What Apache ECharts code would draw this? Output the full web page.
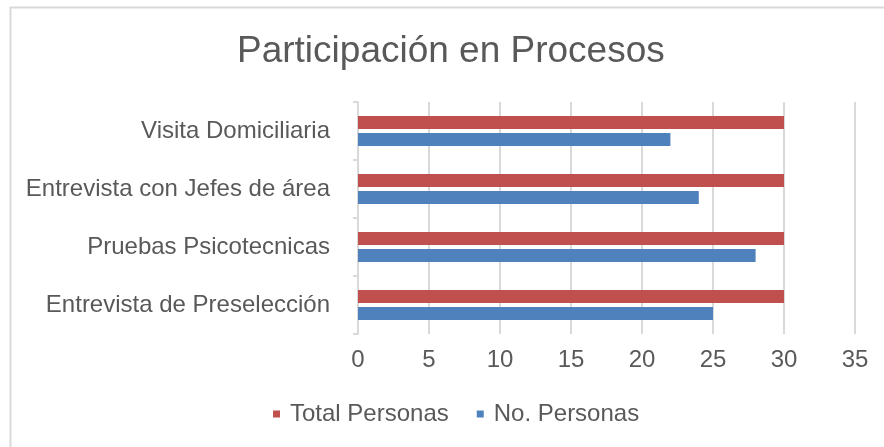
<!DOCTYPE html>
<html><head><meta charset="utf-8">
<script src="https://cdn.jsdelivr.net/npm/echarts@6/dist/echarts.min.js"></script>
<style>html,body{margin:0;padding:0;background:#fff}#c{width:884px;height:447px}</style>
</head><body><div id="c"></div>
<script>
const categories = ['Entrevista de Preselección', 'Pruebas Psicotecnicas', 'Entrevista con Jefes de área', 'Visita Domiciliaria'];
const totalPersonas = [30, 30, 30, 30];
const noPersonas = [25, 28, 24, 22];
const xTicks = {min: 0, max: 35, interval: 5};

const chart = echarts.init(document.getElementById('c'), null, {renderer: 'canvas'});
const font = '"Liberation Sans", Arial, sans-serif';
chart.setOption({
  animation: false,
  backgroundColor: '#fff',
  graphic: [{type: 'rect', left: 8, top: 5, shape: {width: 1000, height: 600}, style: {fill: 'none', stroke: '#d9d9d9', lineWidth: 2}, z: -1}],
  title: {text: 'Participación en Procesos', left: 232, top: 28,
    textStyle: {fontFamily: font, fontSize: 37, fontWeight: 'normal', color: '#595959'}},
  legend: {data: ['Total Personas', 'No. Personas'], top: 397, left: 268, itemWidth: 7, itemHeight: 7, itemGap: 28,
    icon: 'rect', textStyle: {fontFamily: font, fontSize: 24, color: '#595959', padding: [0, 0, 0, 5]}},
  grid: {left: 358, right: 29, top: 102, bottom: 113},
  xAxis: {type: 'value', min: xTicks.min, max: xTicks.max, interval: xTicks.interval,
    axisLine: {show: false}, axisTick: {show: false},
    splitLine: {lineStyle: {color: '#d9d9d9', width: 2}},
    axisLabel: {fontFamily: font, fontSize: 24, color: '#595959', margin: 14}},
  yAxis: {type: 'category', data: categories,
    axisLine: {lineStyle: {color: '#d9d9d9', width: 2}},
    axisTick: {show: true, length: 5, lineStyle: {color: '#d9d9d9', width: 2}},
    axisLabel: {fontFamily: font, fontSize: 24, color: '#595959', margin: 28}},
  series: [
    {name: 'Total Personas', type: 'bar', data: totalPersonas, barWidth: 13, barGap: '30%',
     itemStyle: {color: '#C0504D'}},
    {name: 'No. Personas', type: 'bar', data: noPersonas, barWidth: 13, barGap: '30%',
     itemStyle: {color: '#4F81BD'}}
  ]
});
</script></body></html>
